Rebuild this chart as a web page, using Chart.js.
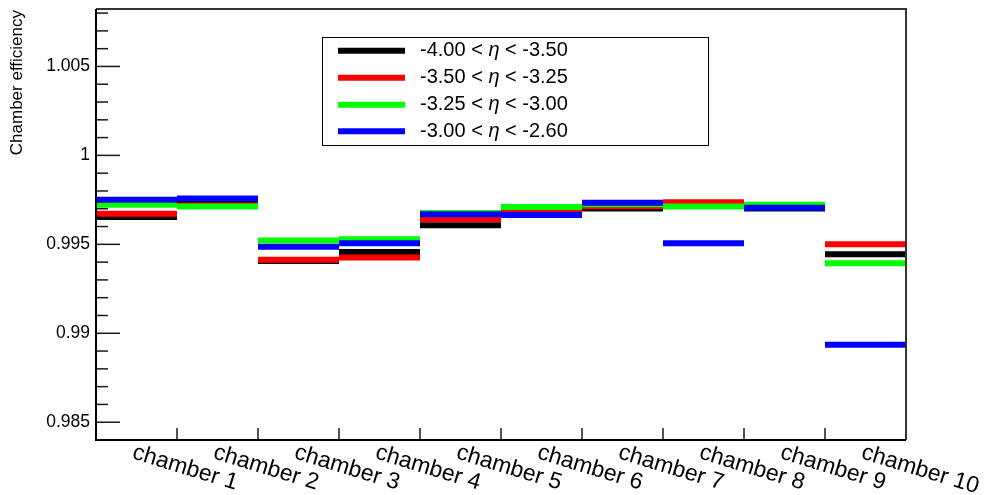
<!DOCTYPE html>
<html>
<head>
<meta charset="utf-8">
<script src="https://cdn.jsdelivr.net/npm/chart.js@4/dist/chart.umd.min.js"></script>
<style>
  html, body { margin: 0; padding: 0; background: #ffffff; }
  #wrap { width: 987px; height: 495px; position: relative; }
</style>
</head>
<body>
<div id="wrap"><canvas id="c" width="987" height="495"></canvas></div>
<script>
// ---------------- data ----------------
const categories = ['chamber 1', 'chamber 2', 'chamber 3', 'chamber 4', 'chamber 5',
                    'chamber 6', 'chamber 7', 'chamber 8', 'chamber 9', 'chamber 10'];

// eta bins (legend)
const etaLow  = ['-4.00', '-3.50', '-3.25', '-3.00'];
const etaHigh = ['-3.50', '-3.25', '-3.00', '-2.60'];

// efficiency per chamber, one array per eta bin
const effEtaBin1 = [0.99654, 0.99735, 0.99407, 0.99457, 0.99607, 0.99699, 0.99701, 0.99716, 0.99702, 0.99444]; // black
const effEtaBin2 = [0.99672, 0.99719, 0.99414, 0.99426, 0.99641, 0.99693, 0.99714, 0.99737, 0.99710, 0.99501]; // red
const effEtaBin3 = [0.99723, 0.99712, 0.99522, 0.99528, 0.99676, 0.99710, 0.99725, 0.99712, 0.99723, 0.99394]; // green
const effEtaBin4 = [0.99751, 0.99758, 0.99487, 0.99506, 0.99669, 0.99665, 0.99734, 0.99506, 0.99706, 0.98935]; // blue

const yAxisMin = 0.984;
const yAxisMax = 1.00823;
const yMajorStep = 0.005;
const yAxisTitle = 'Chamber efficiency';

const seriesColors = ['#000000', '#ff0000', '#00ff00', '#0000ff'];
const seriesValues = [effEtaBin1, effEtaBin2, effEtaBin3, effEtaBin4];

// ---------------- helpers ----------------
function histSteps(vals) {
  const pts = [];
  vals.forEach((v, i) => {
    pts.push({ x: i, y: v }, { x: i + 1, y: v }, { x: i + 1, y: null });
  });
  return pts;
}

const FONT = '"Liberation Sans", Arial, Helvetica, sans-serif';

const datasets = seriesValues.map((vals, k) => ({
  label: etaLow[k] + ' < \u03B7 < ' + etaHigh[k],
  data: histSteps(vals),
  borderColor: seriesColors[k],
  backgroundColor: seriesColors[k],
  borderWidth: 6,
  borderCapStyle: 'butt',
  pointRadius: 0,
  pointHoverRadius: 0,
  spanGaps: false,
  fill: false,
  tension: 0,
  order: seriesValues.length - k   // later series drawn on top
}));

// ---------------- ROOT-like decorations ----------------
const rootPlugin = {
  id: 'rootStyle',
  afterDraw(chart) {
    const ctx = chart.ctx;
    const a = chart.chartArea;
    const xs = chart.scales.x;
    const ys = chart.scales.y;
    ctx.save();

    // y tick marks (inside the frame): majors every 0.005, minors every 0.001
    ctx.strokeStyle = '#1a1a1a';
    ctx.lineWidth = 1.5;
    const kStart = Math.ceil(yAxisMin * 1000 - 1e-6);
    const kEnd = Math.floor(yAxisMax * 1000 + 1e-6);
    for (let k = kStart; k <= kEnd; k++) {
      const py = ys.getPixelForValue(k / 1000);
      const len = (k % 5 === 0) ? 24 : 12;
      ctx.beginPath();
      ctx.moveTo(a.left, py);
      ctx.lineTo(a.left + len, py);
      ctx.stroke();
    }

    // x tick marks at bin edges
    for (let i = 1; i < categories.length; i++) {
      const px = xs.getPixelForValue(i);
      ctx.beginPath();
      ctx.moveTo(px, a.bottom);
      ctx.lineTo(px, a.bottom - 12);
      ctx.stroke();
    }

    // frame
    ctx.lineWidth = 2;
    ctx.strokeStyle = '#333333';
    ctx.beginPath();
    ctx.moveTo(a.left, a.top);
    ctx.lineTo(a.right, a.top);
    ctx.lineTo(a.right, a.bottom);
    ctx.stroke();
    ctx.strokeStyle = '#000000';
    ctx.beginPath();
    ctx.moveTo(a.left, a.top);
    ctx.lineTo(a.left, a.bottom);
    ctx.lineTo(a.right, a.bottom);
    ctx.stroke();

    // x category labels, rotated clockwise
    ctx.fillStyle = '#000000';
    ctx.font = '23px ' + FONT;
    ctx.textAlign = 'left';
    ctx.textBaseline = 'top';
    const ang = 17 * Math.PI / 180;
    categories.forEach((c, i) => {
      const px = xs.getPixelForValue(i + 0.5);
      ctx.save();
      ctx.translate(px, a.bottom + 1);
      ctx.rotate(ang);
      ctx.fillText(c, 0, 0);
      ctx.restore();
    });

    // y axis title
    ctx.save();
    ctx.font = '17px ' + FONT;
    ctx.textAlign = 'right';
    ctx.textBaseline = 'alphabetic';
    ctx.translate(22, a.top + 1);
    ctx.rotate(-Math.PI / 2);
    ctx.fillText(yAxisTitle, 0, 0);
    ctx.restore();

    // legend box
    const lx = 322.5, ly = 37.5, lw = 386, lh = 108;
    ctx.fillStyle = '#ffffff';
    ctx.fillRect(lx, ly, lw, lh);
    ctx.lineWidth = 1;
    ctx.strokeStyle = '#000000';
    ctx.strokeRect(lx, ly, lw, lh);
    const rowY = [50.7, 77.8, 104.8, 131.2];
    ctx.textBaseline = 'middle';
    ctx.textAlign = 'left';
    for (let k = 0; k < seriesColors.length; k++) {
      const yy = rowY[k];
      ctx.strokeStyle = seriesColors[k];
      ctx.lineWidth = 6;
      ctx.lineCap = 'butt';
      ctx.beginPath();
      ctx.moveTo(338, yy);
      ctx.lineTo(405, yy);
      ctx.stroke();
      ctx.fillStyle = '#000000';
      let tx = 420;
      const p1 = etaLow[k] + ' < ';
      const p2 = '\u03B7';
      const p3 = ' < ' + etaHigh[k];
      ctx.font = '20px ' + FONT;
      ctx.fillText(p1, tx, yy);
      tx += ctx.measureText(p1).width;
      ctx.font = 'italic 20px ' + FONT;
      ctx.fillText(p2, tx, yy);
      tx += ctx.measureText(p2).width;
      ctx.font = '20px ' + FONT;
      ctx.fillText(p3, tx, yy);
    }

    ctx.restore();
  }
};

// ---------------- chart ----------------
new Chart(document.getElementById('c').getContext('2d'), {
  type: 'line',
  data: { datasets },
  plugins: [rootPlugin],
  options: {
    responsive: false,
    animation: false,
    events: [],
    layout: { padding: { top: 9, right: 81, bottom: 0, left: 0 } },
    plugins: {
      legend: { display: false },
      tooltip: { enabled: false },
      title: { display: false }
    },
    scales: {
      x: {
        type: 'linear',
        min: 0,
        max: categories.length,
        grid: { display: false, drawTicks: false },
        border: { display: false },
        ticks: { display: false, stepSize: 1 },
        afterFit(scale) {
          scale.height = 55;
          scale.paddingLeft = 0; scale.paddingRight = 0;
        }
      },
      y: {
        type: 'linear',
        min: yAxisMin,
        max: yAxisMax,
        grid: { display: false, drawTicks: false },
        border: { display: false },
        ticks: {
          stepSize: yMajorStep,
          includeBounds: false,
          autoSkip: false,
          padding: 6,
          color: '#000000',
          font: { family: FONT, size: 17.5 },
          callback: (v) => {
            const k = Math.round(v * 1000);
            if (k % 5 !== 0) return '';
            return String(parseFloat((k / 1000).toFixed(3)));
          }
        },
        afterFit(scale) {
          scale.width = 96;
          scale.paddingTop = 0; scale.paddingBottom = 0;
        }
      }
    }
  }
});
</script>
</body>
</html>
